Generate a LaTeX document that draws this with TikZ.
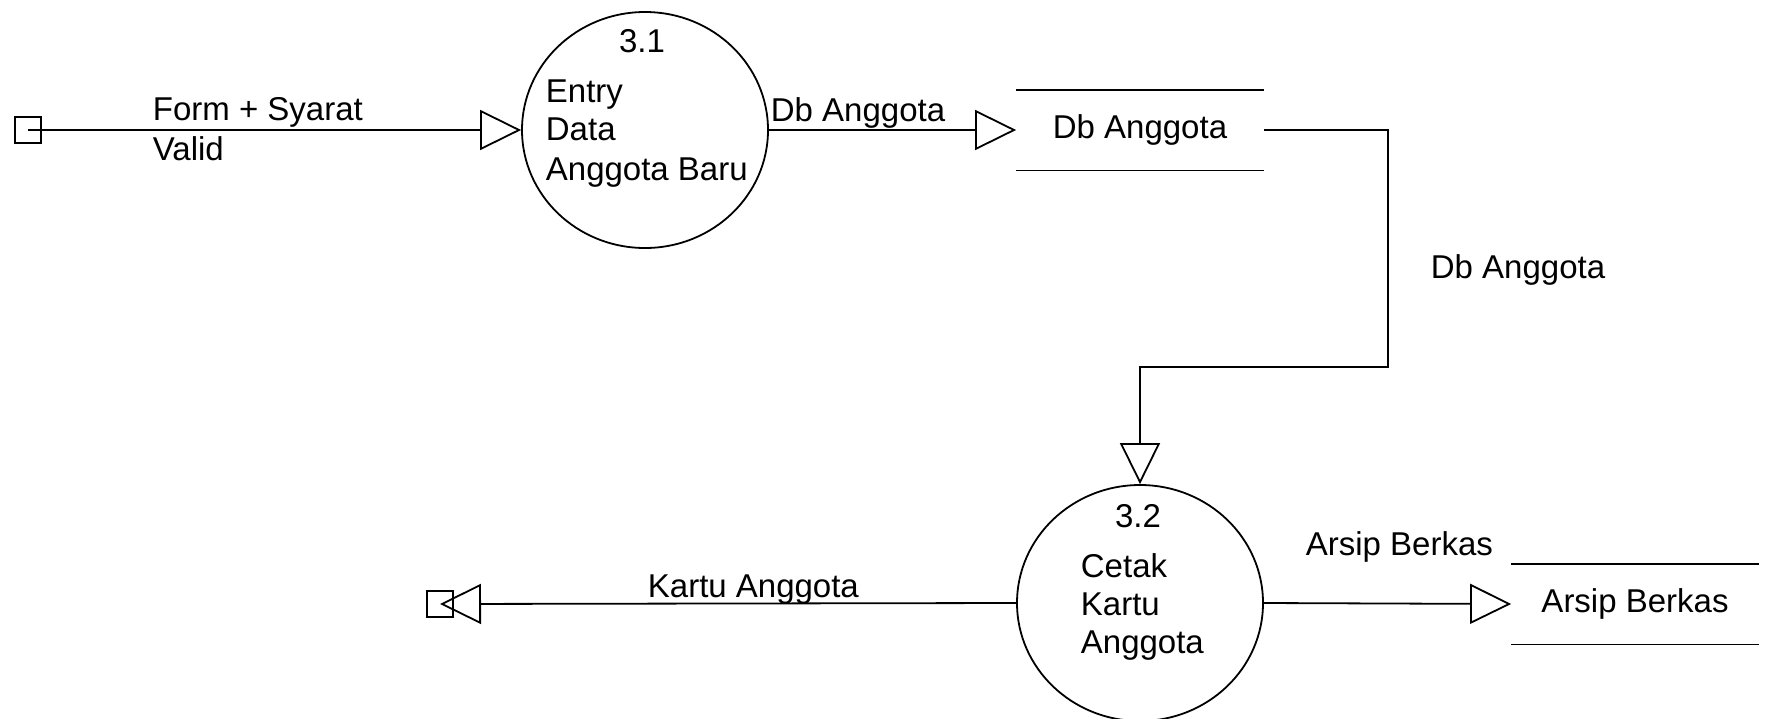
\documentclass[tikz,border=0pt]{standalone}
\usepackage{fontspec}
\setmainfont{Liberation Sans}
\usetikzlibrary{shapes.geometric,arrows.meta}
\begin{document}
\begin{tikzpicture}[x=1pt,y=-1pt,
  line width=1.8pt,
  txt/.style={inner sep=0pt, font=\fontsize{33}{40}\selectfont},
  lbl/.style={txt, anchor=base west},
  ctr/.style={txt, anchor=base},
  proc/.style={draw, ellipse, minimum width=246pt, minimum height=236pt, inner sep=0pt},
  ext/.style={draw, rectangle, minimum size=26pt, inner sep=0pt},
  storebox/.style={rectangle, minimum width=246pt, minimum height=79pt, inner sep=0pt, font=\fontsize{33}{40}\selectfont},
  flow/.style={-{Triangle[open,length=41pt,width=40pt]}}
]
\useasboundingbox (0,0) rectangle (1766,718);

% nodes
\node[ext] (e1) at (28,130) {};
\node[proc] (p31) at (645,130) {};
\node[storebox] (s1) at (1140,130) {Db Anggota};
\node[proc] (p32) at (1140,603) {};
\node[ext] (e2) at (440,604) {};
\node[storebox] (s2) at (1635,604) {Arsip Berkas};
\coordinate (b1) at (1388,367);

% store lines
\draw (s1.north west) -- (s1.north east);
\draw (s1.south west) -- (s1.south east);
\draw (s2.north west) -- (s2.north east);
\draw (s2.south west) -- (s2.south east);

% process texts
\node[ctr] (t31) at (642,52) {3.1};
\node[lbl] (t31a) at (545,102) {Entry};
\node[lbl] (t31b) at (545,140) {Data};
\node[lbl] (t31c) at (545,180) {Anggota Baru};
\node[ctr] (t32) at (1138,527) {3.2};
\node[lbl] (t32a) at (1080,577) {Cetak};
\node[lbl] (t32b) at (1080,615) {Kartu};
\node[lbl] (t32c) at (1080,653) {Anggota};

% flows
\draw[flow] (e1.center) -- (p31.west);
\draw[flow] (p31.east) -- (s1.west);
\draw[flow] (s1.east) -| (b1) -| (p32.north);
\draw[flow] (p32.west) -- (e2.center);
\draw[flow] (p32.east) -- (s2.west);

% flow labels
\node[lbl] (l1a) at (152,120) {Form + Syarat};
\node[lbl] (l1b) at (152,160) {Valid};
\node[lbl] (l2) at (770,121) {Db Anggota};
\node[lbl] (l3) at (1430,278) {Db Anggota};
\node[lbl] (l4) at (647,597) {Kartu Anggota};
\node[lbl] (l5) at (1305,555) {Arsip Berkas};
\end{tikzpicture}
\end{document}
